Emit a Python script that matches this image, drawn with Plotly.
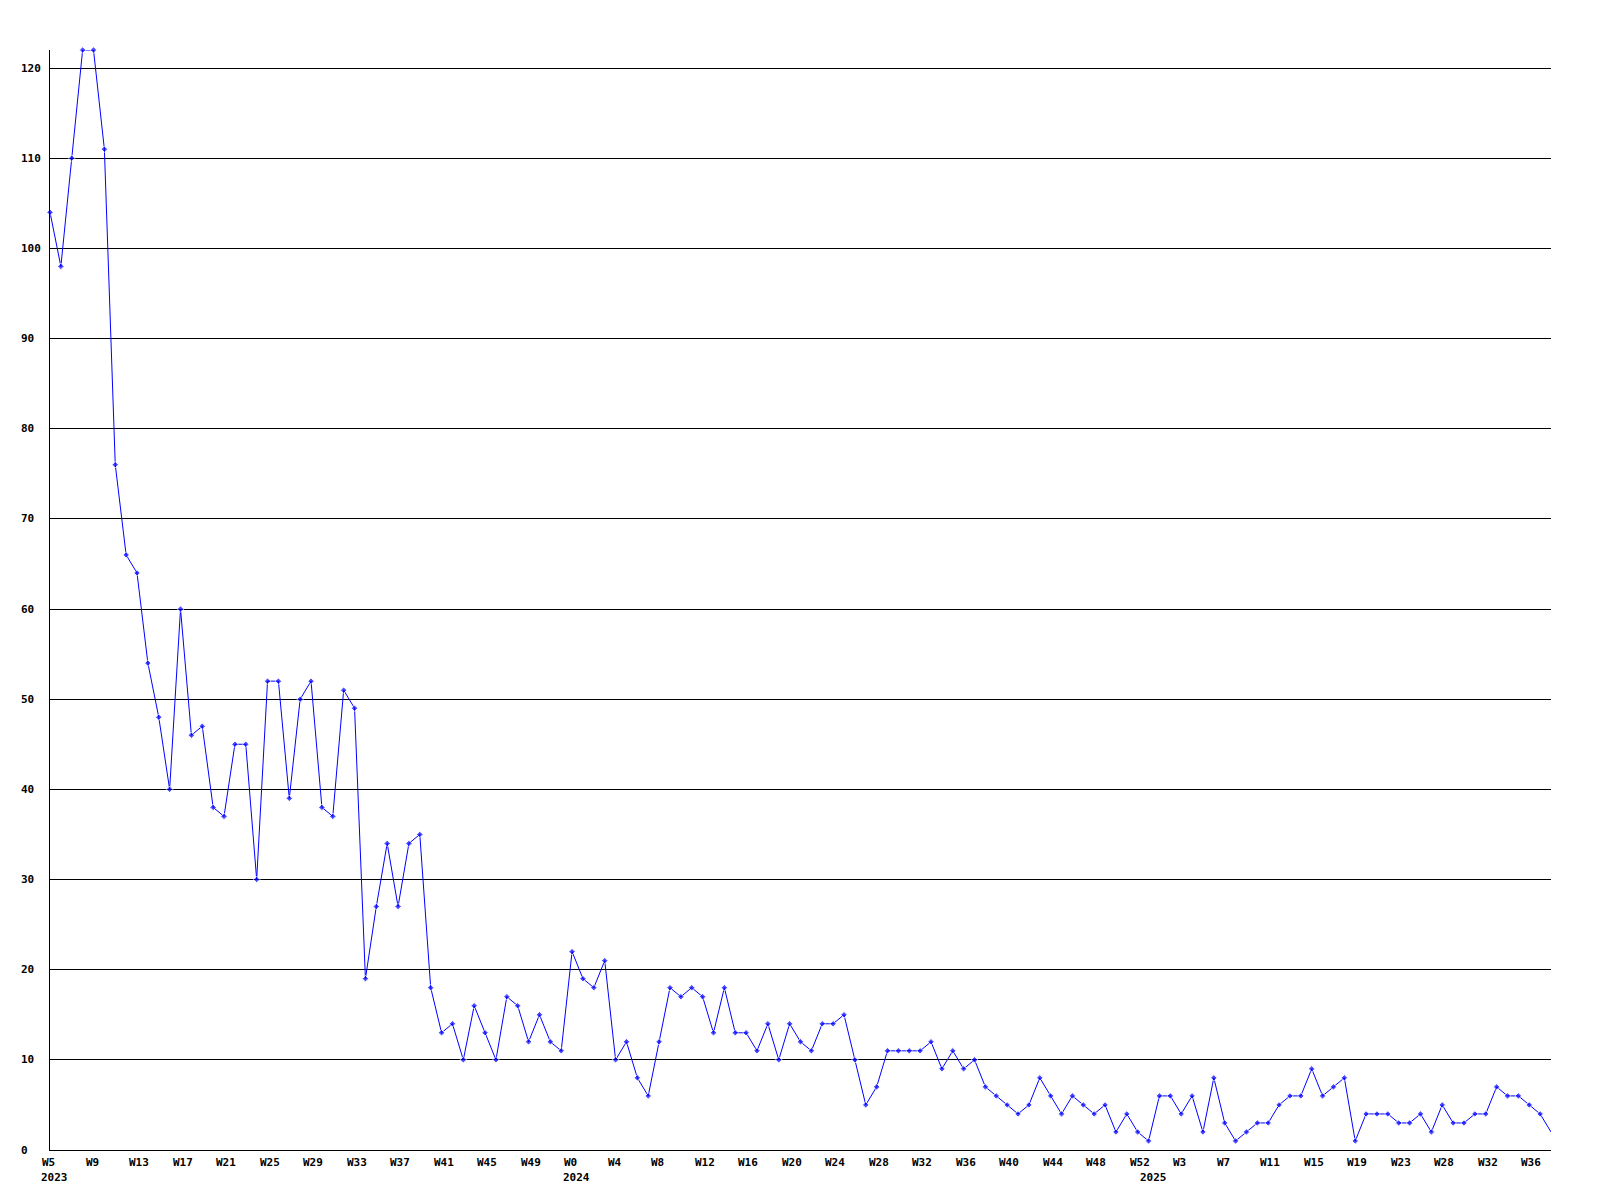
import plotly.graph_objects as go

# weekly counts
counts_2023 = [104, 98, 110, 122, 122, 111, 76, 66, 64, 54, 48, 40, 60, 46, 47, 38,
               37, 45, 45, 30, 52, 52, 39, 50, 52, 38, 37, 51, 49, 19, 27, 34,
               27, 34, 35, 18, 13, 14, 10, 16, 13, 10, 17, 16, 12, 15, 12, 11]
counts_2024 = [22, 19, 18, 21, 10, 12, 8, 6, 12, 18, 17, 18, 17, 13, 18, 13,
               13, 11, 14, 10, 14, 12, 11, 14, 14, 15, 10, 5, 7, 11, 11, 11,
               11, 12, 9, 11, 9, 10, 7, 6, 5, 4, 5, 8, 6, 4, 6, 5,
               4, 5, 2, 4, 2]
counts_2025 = [1, 6, 6, 4, 6, 2, 8, 3, 1, 2, 3, 3, 5, 6, 6, 9,
               6, 7, 8, 1, 4, 4, 4, 3, 3, 4, 2, 5, 3, 3, 4, 4,
               7, 6, 6, 5, 4, 2]

week_labels = ["W5", "W9", "W13", "W17", "W21", "W25", "W29", "W33", "W37", "W41",
               "W45", "W49", "W0", "W4", "W8", "W12", "W16", "W20", "W24", "W28",
               "W32", "W36", "W40", "W44", "W48", "W52", "W3", "W7", "W11", "W15",
               "W19", "W23", "W28", "W32", "W36"]
year_labels = ["2023", "2024", "2025"]
y_ticks = [0, 10, 20, 30, 40, 50, 60, 70, 80, 90, 100, 110, 120]

counts = counts_2023 + counts_2024 + counts_2025
x = list(range(len(counts)))
year_starts = [0, len(counts_2023), len(counts_2023) + len(counts_2024)]
label_step = 4

FONT = "DejaVu Sans Mono"

# last point sits on the right edge, drawn without a marker
marker_sizes = [5] * (len(counts) - 1) + [0]

fig = go.Figure(
    go.Scatter(
        x=x, y=counts, mode="lines+markers",
        line=dict(color="#0000ff", width=1),
        marker=dict(symbol="diamond", size=marker_sizes, color="#0000ff"),
        cliponaxis=False,
        hoverinfo="x+y",
    )
)

annotations = []
for v in y_ticks:
    annotations.append(dict(
        x=0, xref="paper", xshift=-31, xanchor="left",
        y=v, yref="y", yanchor="middle",
        text=f"<b>{v}</b>", showarrow=False,
        font=dict(family=FONT, size=11, color="black"),
    ))
for i, lab in enumerate(week_labels):
    annotations.append(dict(
        x=x[i * label_step], xref="x", xshift=-10, xanchor="left",
        y=0, yref="paper", yanchor="middle", yshift=-12,
        text=f"<b>{lab}</b>", showarrow=False,
        font=dict(family=FONT, size=11, color="black"),
    ))
for start, lab in zip(year_starts, year_labels):
    annotations.append(dict(
        x=x[start], xref="x", xshift=-11, xanchor="left",
        y=0, yref="paper", yanchor="middle", yshift=-27,
        text=f"<b>{lab}</b>", showarrow=False,
        font=dict(family=FONT, size=11, color="black"),
    ))

fig.update_layout(
    width=1600, height=1200,
    margin=dict(l=50, r=49, t=50, b=50),
    paper_bgcolor="white", plot_bgcolor="white",
    showlegend=False,
    annotations=annotations,
    font=dict(family=FONT, size=11, color="black"),
)
fig.update_xaxes(
    range=[0, len(counts) - 1], showgrid=False, zeroline=False,
    showticklabels=False, ticks="",
    showline=True, linecolor="black", linewidth=1,
)
fig.update_yaxes(
    range=[0, 122], tickvals=y_ticks, showticklabels=False, ticks="",
    showgrid=True, gridcolor="black", gridwidth=1, zeroline=False,
    showline=True, linecolor="black", linewidth=1,
)

# drop the default page margin so the figure sits at the window's corner
fig.write_html(
    "out.html",
    config={"displayModeBar": False},
    post_script="document.body.style.margin = '0';",
)
